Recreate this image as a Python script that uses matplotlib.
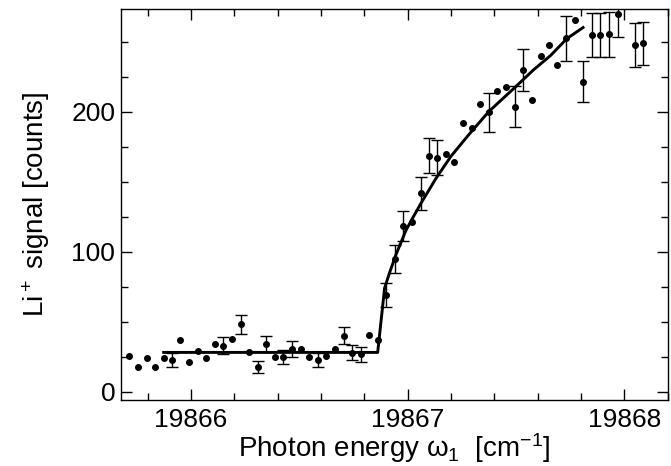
import numpy as np
import matplotlib
matplotlib.use('Agg')
import matplotlib.pyplot as plt

plt.rcParams['font.family'] = ['Liberation Sans', 'DejaVu Sans']
plt.rcParams['mathtext.fontset'] = 'custom'
plt.rcParams['mathtext.rm'] = 'Liberation Sans'
plt.rcParams['mathtext.it'] = 'Liberation Sans'

# measured Li+ signal (photon energy in cm^-1, counts, error; 0 = no bar)
energy = [19865.716, 19865.755, 19865.795, 19865.833, 19865.874, 19865.914,
          19865.951, 19865.992, 19866.032, 19866.071, 19866.110, 19866.150,
          19866.190, 19866.230, 19866.270, 19866.309, 19866.348, 19866.388,
          19866.427, 19866.466, 19866.506, 19866.545, 19866.586, 19866.625,
          19866.665, 19866.705, 19866.745, 19866.784, 19866.823, 19866.862,
          19866.901, 19866.942, 19866.980, 19867.020, 19867.060, 19867.098,
          19867.137, 19867.176, 19867.216, 19867.257, 19867.297, 19867.336,
          19867.375, 19867.415, 19867.455, 19867.494, 19867.533, 19867.573,
          19867.614, 19867.653, 19867.692, 19867.732, 19867.771, 19867.810,
          19867.850, 19867.889, 19867.929, 19867.970, 19868.048, 19868.088]
signal = [25.7, 17.9, 23.8, 17.9, 23.8, 22.6,
          36.7, 21.0, 29.1, 23.8, 34.0, 32.9,
          37.9, 48.1, 28.1, 17.9, 33.8, 24.8,
          24.8, 30.6, 30.5, 24.8, 22.9, 25.7,
          30.5, 40.0, 27.9, 26.6, 40.7, 36.8,
          68.8, 94.8, 118.6, 121.2, 141.5, 168.6,
          167.0, 170.0, 164.0, 191.7, 188.6, 205.5,
          199.6, 214.6, 217.6, 203.6, 229.8, 207.9,
          239.6, 247.6, 233.4, 252.4, 265.3, 221.4,
          254.6, 254.6, 255.3, 269.6, 247.4, 248.6]
error = [0, 0, 0, 0, 0, 4.8,
         0, 0, 0, 0, 0, 5.8,
         0, 6.9, 0, 4.3, 5.7, 0,
         4.8, 5.7, 0, 0, 5.0, 0,
         0, 6.0, 5.1, 5.2, 0, 0,
         8.5, 9.8, 10.7, 0, 12.0, 12.5,
         12.5, 0, 0, 0, 0, 0,
         14.0, 0, 0, 14.3, 14.9, 0,
         0, 0, 0, 16.0, 0, 14.9,
         16.0, 16.0, 16.0, 16.4, 15.7, 15.6]

# threshold fit curve
fit_x = [19865.874, 19866.862, 19866.894, 19866.917, 19866.947, 19866.992,
         19867.02, 19867.06, 19867.13, 19867.20, 19867.28, 19867.375,
         19867.494, 19867.583, 19867.66, 19867.735, 19867.81]
fit_y = [28, 28, 74, 85, 98, 115,
         123, 134, 152, 168, 183, 200,
         217, 230, 240, 252, 260]

energy = np.array(energy)
signal = np.array(signal)
error = np.array(error)
has_err = error > 0

fig = plt.figure(figsize=(6.71, 4.66), dpi=100)
ax = fig.add_axes([0.18, 0.1416, 0.8148, 0.8384])

ax.plot(fit_x, fit_y, color='black', lw=2.1, zorder=2)
ax.errorbar(energy[has_err], signal[has_err], yerr=error[has_err], fmt='none',
            ecolor='black', elinewidth=1.0, capsize=4, capthick=1.0, zorder=3)
ax.plot(energy, signal, 'o', color='black', ms=4.0, zorder=4)

ax.set_xlim(19865.676, 19868.16)
ax.set_ylim(-6, 273)
ax.set_xticks([19866, 19867, 19868])
ax.set_xticks(np.arange(19865.8, 19868.2, 0.2), minor=True)
ax.set_yticks([0, 100, 200])
ax.set_yticks(np.arange(0, 275, 25), minor=True)
ax.xaxis.set_major_formatter(matplotlib.ticker.FormatStrFormatter('%d'))

ax.tick_params(which='both', direction='in', top=True, right=True,
               labelsize=19, width=1.0)
ax.tick_params(which='major', length=8)
ax.tick_params(axis='x', which='major', pad=6)
ax.tick_params(axis='y', which='major', pad=4)
ax.tick_params(which='minor', length=5)
for s in ax.spines.values():
    s.set_linewidth(1.0)

ax.set_xlabel(r'Photon energy $\omega_1$  [cm$^{-1}$]', fontsize=20, labelpad=-1)
ax.set_ylabel(r'Li$^+$ signal [counts]', fontsize=20, labelpad=14)

fig.savefig('out.png', dpi=100)
